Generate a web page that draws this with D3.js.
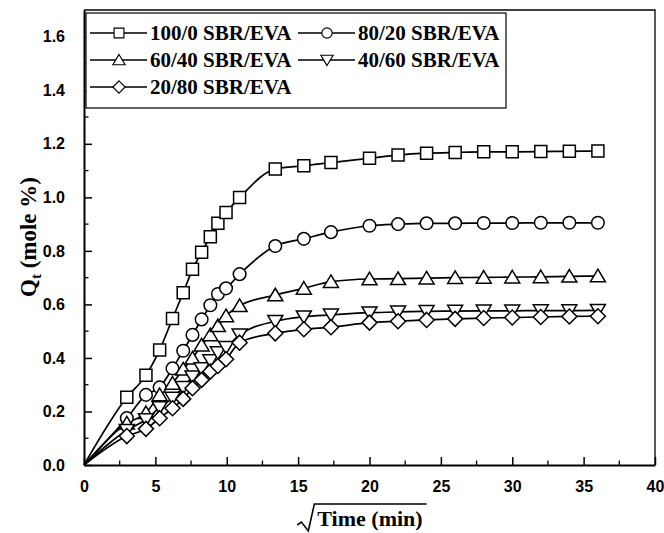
<!DOCTYPE html>
<html>
<head>
<meta charset="utf-8">
<script src="https://cdn.jsdelivr.net/npm/d3@7"></script>
<style>
  html, body { margin: 0; padding: 0; background: #fff; }
  svg { display: block; }
</style>
</head>
<body>
<svg id="chart" width="664" height="533"></svg>
<script>
// square root of time (min^0.5) at which each uptake was measured
const sqrtTime = [3.0, 4.34, 5.3, 6.2, 6.95, 7.6, 8.24, 8.85, 9.38, 9.95, 10.9, 13.4, 15.4, 17.3, 20, 22, 24, 26, 28, 30, 32, 34, 36];

// mole % uptake Qt for each SBR/EVA blend ratio
const blend100_0 = [0.253, 0.335, 0.430, 0.547, 0.644, 0.731, 0.795, 0.853, 0.903, 0.943, 0.999, 1.106, 1.118, 1.130, 1.146, 1.158, 1.165, 1.168, 1.170, 1.170, 1.171, 1.172, 1.173];
const blend80_20 = [0.175, 0.262, 0.290, 0.361, 0.427, 0.486, 0.544, 0.597, 0.639, 0.660, 0.713, 0.818, 0.845, 0.870, 0.894, 0.900, 0.903, 0.903, 0.904, 0.904, 0.905, 0.905, 0.905];
const blend60_40 = [0.156, 0.195, 0.262, 0.305, 0.358, 0.399, 0.448, 0.486, 0.520, 0.557, 0.595, 0.635, 0.660, 0.685, 0.695, 0.696, 0.698, 0.700, 0.701, 0.702, 0.703, 0.705, 0.706];
const blend40_60 = [0.130, 0.170, 0.215, 0.250, 0.290, 0.330, 0.360, 0.390, 0.420, 0.440, 0.486, 0.537, 0.554, 0.561, 0.569, 0.572, 0.574, 0.575, 0.576, 0.576, 0.577, 0.577, 0.578];
const blend20_80 = [0.108, 0.135, 0.175, 0.212, 0.247, 0.287, 0.318, 0.349, 0.370, 0.395, 0.457, 0.492, 0.507, 0.515, 0.532, 0.537, 0.542, 0.546, 0.549, 0.551, 0.553, 0.555, 0.556];

const seriesNames = ["100/0 SBR/EVA", "80/20 SBR/EVA", "60/40 SBR/EVA", "40/60 SBR/EVA", "20/80 SBR/EVA"];
const seriesValues = [blend100_0, blend80_20, blend60_40, blend40_60, blend20_80];
const seriesSymbols = ["square", "circle", "triangleUp", "triangleDown", "diamond"];

const xTickValues = [0, 5, 10, 15, 20, 25, 30, 35, 40];
const yTickValues = [0, 0.2, 0.4, 0.6, 0.8, 1.0, 1.2, 1.4, 1.6];

const svg = d3.select("#chart");
const plotLeft = 84, plotRight = 655, plotTop = 10, plotBottom = 465;

const x = d3.scaleLinear().domain([0, 40]).range([plotLeft, plotRight]);
const y = d3.scaleLinear().domain([0, 1.7]).range([plotBottom, plotTop]);

// marker shapes, centred on (0,0)
function symbolPath(kind) {
  switch (kind) {
    case "square": return "M-6,-6H6V6H-6Z";
    case "circle": return "M6.3,0A6.3,6.3 0 1,1 -6.3,0A6.3,6.3 0 1,1 6.3,0Z";
    case "triangleUp": return "M0,-6.8L7.5,5.8H-7.5Z";
    case "triangleDown": return "M0,6.8L7.5,-5.8H-7.5Z";
    case "diamond": return "M0,-7.5L7.5,0L0,7.5L-7.5,0Z";
  }
}

// frame: top and right edges
svg.append("path")
  .attr("d", `M${plotLeft},${plotTop}H${plotRight}V${plotBottom}`)
  .attr("fill", "none").attr("stroke", "#000").attr("stroke-width", 1.3);

// x axis with inward major ticks and minor ticks
const xAxis = d3.axisBottom(x).tickValues(xTickValues).tickFormat(d3.format("d"))
  .tickSizeInner(-8).tickSizeOuter(0).tickPadding(16);
const gx = svg.append("g").attr("transform", `translate(0,${plotBottom})`).call(xAxis);
gx.selectAll(".tick line").attr("stroke-width", 1.5);
gx.select(".domain").attr("stroke-width", 2);
gx.selectAll(".tick text").attr("font-family", "Liberation Sans, Arial, sans-serif")
  .attr("font-size", 16).attr("font-weight", "bold").attr("fill", "#000");
const xMinor = d3.range(2.5, 40, 5);
gx.selectAll(".minor").data(xMinor).join("line").attr("class", "minor")
  .attr("x1", d => x(d)).attr("x2", d => x(d)).attr("y1", 0).attr("y2", -4.5)
  .attr("stroke", "#000").attr("stroke-width", 1.3);

// y axis with inward ticks
const yAxis = d3.axisLeft(y).tickValues(yTickValues).tickFormat(d3.format(".1f"))
  .tickSizeInner(-8).tickSizeOuter(0).tickPadding(19);
const gy = svg.append("g").attr("transform", `translate(${plotLeft},0)`).call(yAxis);
gy.selectAll(".tick line").attr("stroke-width", 1.5);
gy.select(".domain").attr("stroke-width", 2);
gy.selectAll(".tick text").attr("font-family", "Liberation Sans, Arial, sans-serif")
  .attr("font-size", 16).attr("font-weight", "bold").attr("fill", "#000");
const yMinor = d3.range(0.1, 1.7, 0.2);
gy.selectAll(".minor").data(yMinor).join("line").attr("class", "minor")
  .attr("x1", 0).attr("x2", 4.5).attr("y1", d => y(d)).attr("y2", d => y(d))
  .attr("stroke", "#000").attr("stroke-width", 1.3);

// curves start at the origin and run smoothly through the measurements
const line = d3.line().x(d => x(d[0])).y(d => y(d[1])).curve(d3.curveMonotoneX);

const plot = svg.append("g");
seriesValues.forEach((vals, i) => {
  const pts = [[0, 0]].concat(sqrtTime.map((t, j) => [t, vals[j]]));
  plot.append("path").datum(pts).attr("d", line)
    .attr("fill", "none").attr("stroke", "#000").attr("stroke-width", 1.7);
});
seriesValues.forEach((vals, i) => {
  plot.append("g").selectAll("path")
    .data(sqrtTime.map((t, j) => [t, vals[j]]))
    .join("path")
    .attr("d", symbolPath(seriesSymbols[i]))
    .attr("transform", d => `translate(${x(d[0])},${y(d[1])})`)
    .attr("fill", "#fff").attr("stroke", "#000").attr("stroke-width", 1.5);
});

// legend
const legend = svg.append("g");
legend.append("rect").attr("x", 86).attr("y", 13).attr("width", 420).attr("height", 95)
  .attr("fill", "#fff").attr("stroke", "#000").attr("stroke-width", 1.2);
const legendSlots = [
  { x: 90, y: 33 }, { x: 298, y: 33 },
  { x: 90, y: 60 }, { x: 298, y: 60 },
  { x: 90, y: 87 }
];
seriesNames.forEach((name, i) => {
  const s = legendSlots[i];
  const g = legend.append("g").attr("transform", `translate(${s.x},${s.y})`);
  g.append("line").attr("x1", 0).attr("x2", 57).attr("y1", 0).attr("y2", 0)
    .attr("stroke", "#000").attr("stroke-width", 1.6);
  g.append("path").attr("d", symbolPath(seriesSymbols[i]))
    .attr("transform", "translate(29,0) scale(0.82)")
    .attr("fill", "#fff").attr("stroke", "#000").attr("stroke-width", 1.4);
  g.append("text").attr("x", 60).attr("y", 7)
    .attr("font-family", "Liberation Serif, Times New Roman, serif")
    .attr("font-weight", "bold").attr("font-size", 21).attr("fill", "#000")
    .text(name);
});

// y axis title: Q with subscript t
const yTitle = svg.append("text")
  .attr("transform", "translate(36,237) rotate(-90)")
  .attr("text-anchor", "middle")
  .attr("font-family", "Liberation Serif, Times New Roman, serif")
  .attr("font-weight", "bold").attr("font-size", 23).attr("fill", "#000");
yTitle.append("tspan").text("Q");
yTitle.append("tspan").attr("font-size", 15).attr("dy", 5).text("t");
yTitle.append("tspan").attr("dy", -5).text(" (mole %)");

// x axis title under a radical sign
const xTitle = svg.append("text")
  .attr("x", 370).attr("y", 526)
  .attr("text-anchor", "middle")
  .attr("font-family", "Liberation Serif, Times New Roman, serif")
  .attr("font-weight", "bold").attr("font-size", 22).attr("fill", "#000")
  .text("Time (min)");
const bb = xTitle.node().getBBox();
svg.append("path")
  .attr("d", `M${bb.x - 20},${bb.y + 19} L${bb.x - 16},${bb.y + 16} L${bb.x - 9},${bb.y + bb.height} L${bb.x - 3},${bb.y - 2} H${bb.x + bb.width + 4}`)
  .attr("fill", "none").attr("stroke", "#000").attr("stroke-width", 1.6);
</script>
</body>
</html>
